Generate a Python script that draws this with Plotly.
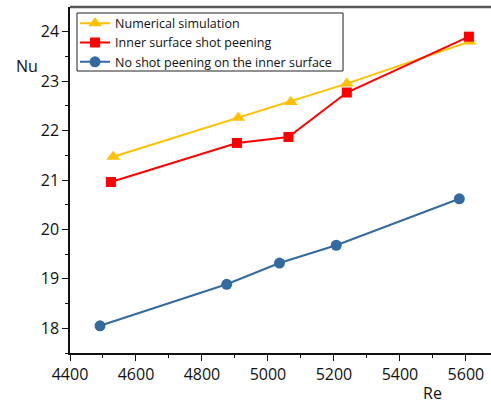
import plotly.graph_objects as go

re_sim = [4531, 4910, 5069, 5239, 5611]
nu_sim = [21.47, 22.26, 22.58, 22.95, 23.80]
re_peen = [4524, 4906, 5062, 5239, 5609]
nu_peen = [20.96, 21.75, 21.87, 22.77, 23.90]
re_none = [4491, 4875, 5035, 5207, 5580]
nu_none = [18.05, 18.89, 19.32, 19.68, 20.62]

names = ["Numerical simulation", "Inner surface shot peening", "No shot peening on the inner surface"]
colors = ["#FFC000", "#FF0000", "#336AA0"]

fig = go.Figure()
fig.add_trace(go.Scatter(x=re_sim, y=nu_sim, name=names[0], mode="lines+markers",
                         line=dict(color=colors[0], width=2),
                         marker=dict(symbol="triangle-up", size=12, color=colors[0])))
fig.add_trace(go.Scatter(x=re_peen, y=nu_peen, name=names[1], mode="lines+markers",
                         line=dict(color=colors[1], width=2),
                         marker=dict(symbol="square", size=10, color=colors[1])))
fig.add_trace(go.Scatter(x=re_none, y=nu_none, name=names[2], mode="lines+markers",
                         line=dict(color=colors[2], width=2),
                         marker=dict(symbol="circle", size=11, color=colors[2])))

font = "Open Sans"
fig.update_layout(
    width=491, height=403,
    margin=dict(l=70, r=0, t=7, b=50),
    paper_bgcolor="white", plot_bgcolor="white",
    font=dict(family=font, size=16, color="#111"),
    showlegend=True,
    legend=dict(x=0.012, y=0.995, xanchor="left", yanchor="top",
                borderwidth=0, bgcolor="rgba(0,0,0,0)",
                font=dict(size=12.5, family=font), tracegroupgap=0,
                itemwidth=30),
    xaxis=dict(range=[4400, 5676], tickvals=[4400, 4600, 4800, 5000, 5200, 5400, 5600],
               showgrid=False, zeroline=False, showline=True, linecolor="#111", linewidth=1.5,
               ticks="outside", ticklen=6, tickwidth=1.2, tickcolor="#111",
               minor=dict(tickvals=[4500, 4700, 4900, 5100, 5300, 5500], ticks="outside",
                          ticklen=3, tickwidth=1.2, tickcolor="#111")),
    yaxis=dict(range=[17.5, 24.5], tickvals=[18, 19, 20, 21, 22, 23, 24],
               showgrid=False, zeroline=False, showline=True, linecolor="#111", linewidth=1.5,
               ticks="outside", ticklen=6, tickwidth=1.2, tickcolor="#111",
               minor=dict(tickvals=[17.5, 18.5, 19.5, 20.5, 21.5, 22.5, 23.5], ticks="outside",
                          ticklen=3, tickwidth=1.2, tickcolor="#111")),
    shapes=[dict(type="line", xref="paper", yref="paper", x0=0, x1=1, y0=1, y1=1,
                 line=dict(color="#555", width=2.5)),
            dict(type="rect", xref="paper", yref="paper", x0=0.0166, x1=0.6485,
                 y0=0.815, y1=0.9827, line=dict(color="#222", width=1),
                 fillcolor="rgba(0,0,0,0)", layer="above")],
    annotations=[
        dict(text="Nu", xref="paper", yref="paper", x=-0.102, y=0.83, showarrow=False,
             xanchor="center", yanchor="middle", font=dict(size=16, family=font)),
        dict(text="Re", xref="paper", yref="paper", x=0.86, y=-0.115, showarrow=False,
             xanchor="center", yanchor="middle", font=dict(size=16, family=font)),
    ],
)

fig.write_html("out.html")
